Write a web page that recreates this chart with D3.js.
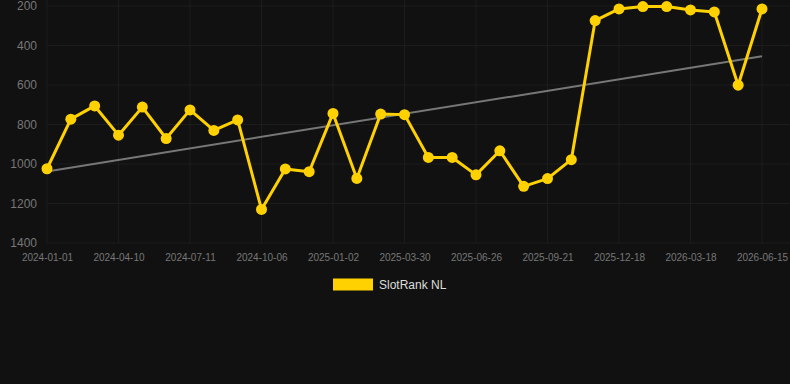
<!DOCTYPE html>
<html>
<head>
<meta charset="utf-8">
<script src="https://cdn.jsdelivr.net/npm/d3@7"></script>
<style>
  html, body { margin: 0; padding: 0; background: #111111; }
  svg { display: block; }
  text { font-family: "Liberation Sans", Arial, sans-serif; }
</style>
</head>
<body>
<svg id="chart" width="790" height="384"></svg>
<script>
const dates = [
  "2024-01-01","2024-02-03","2024-03-07","2024-04-10","2024-05-10","2024-06-10",
  "2024-07-11","2024-08-09","2024-09-07","2024-10-06","2024-11-04","2024-12-03",
  "2025-01-02","2025-01-31","2025-03-01","2025-03-30","2025-04-28","2025-05-28",
  "2025-06-26","2025-07-25","2025-08-23","2025-09-21","2025-10-20","2025-11-18",
  "2025-12-18","2026-01-17","2026-02-16","2026-03-18","2026-04-16","2026-05-16",
  "2026-06-15"
];
const ranks = [
  1024, 773, 706, 854, 712, 871,
  726, 830, 777, 1230, 1025, 1039,
  744, 1073, 747, 750, 967, 967,
  1055, 933, 1113, 1074, 978, 274,
  215, 203, 203, 220, 230, 601,
  215
];
const xTickLabels = ["2024-01-01","2024-04-10","2024-07-11","2024-10-06","2025-01-02","2025-03-30","2025-06-26","2025-09-21","2025-12-18","2026-03-18","2026-06-15"];
const yTicks = [200, 400, 600, 800, 1000, 1200, 1400];
const seriesName = "SlotRank NL";

const svg = d3.select("#chart");
const W = 790, H = 384;
const m = { left: 47, right: 28, top: 6, bottom: 141 };

const x = d3.scalePoint().domain(dates).range([m.left, W - m.right]);
const y = d3.scaleLinear().domain([200, 1400]).range([m.top, H - m.bottom]);

// grid
const grid = svg.append("g");
grid.selectAll("line.h").data(yTicks).enter().append("line")
  .attr("x1", m.left).attr("x2", W)
  .attr("y1", d => y(d)).attr("y2", d => y(d))
  .attr("stroke", "#1c1c1c").attr("stroke-width", 1);
grid.selectAll("line.v").data(xTickLabels).enter().append("line")
  .attr("x1", d => x(d)).attr("x2", d => x(d))
  .attr("y1", 0).attr("y2", y(1400))
  .attr("stroke", "#1c1c1c").attr("stroke-width", 1);

// y axis
const yAxis = svg.append("g").attr("transform", `translate(${m.left},0)`)
  .call(d3.axisLeft(y).tickValues(yTicks).tickFormat(d3.format("d")).tickSize(0).tickPadding(10));
yAxis.select(".domain").remove();
yAxis.selectAll("text").attr("fill", "#777777").attr("font-size", 12)
  .style("font-family", "Liberation Sans, Arial, sans-serif");

// x axis
const xAxis = svg.append("g").attr("transform", `translate(0,${y(1400)})`)
  .call(d3.axisBottom(x).tickValues(xTickLabels).tickSize(0).tickPadding(11));
xAxis.select(".domain").remove();
xAxis.selectAll("text").attr("fill", "#777777").attr("font-size", 10)
  .style("font-family", "Liberation Sans, Arial, sans-serif");

// trend (least squares over index)
const n = ranks.length;
const idx = d3.range(n);
const mx = d3.mean(idx), my = d3.mean(ranks);
const slope = d3.sum(idx, i => (i - mx) * (ranks[i] - my)) / d3.sum(idx, i => (i - mx) ** 2);
const icpt = my - slope * mx;
const trend = [0, n - 1].map(i => ({ d: dates[i], v: icpt + slope * i }));
svg.append("path").datum(trend)
  .attr("d", d3.line().x(p => x(p.d)).y(p => y(p.v)))
  .attr("stroke", "#777777").attr("stroke-width", 2).attr("fill", "none");

// series
const pts = dates.map((d, i) => ({ d, v: ranks[i] }));
svg.append("path").datum(pts)
  .attr("d", d3.line().x(p => x(p.d)).y(p => y(p.v)))
  .attr("stroke", "#FFD100").attr("stroke-width", 3).attr("fill", "none")
  .attr("stroke-linejoin", "round");
svg.selectAll("circle.pt").data(pts).enter().append("circle")
  .attr("cx", p => x(p.d)).attr("cy", p => y(p.v)).attr("r", 5.5)
  .attr("fill", "#FFD100");

// legend
const lg = svg.append("g");
lg.append("rect").attr("x", 333).attr("y", 278.5).attr("width", 40).attr("height", 12)
  .attr("fill", "#FFD100");
lg.append("text").attr("x", 379).attr("y", 289).attr("font-size", 12)
  .attr("fill", "#dddddd").text(seriesName);
</script>
</body>
</html>
